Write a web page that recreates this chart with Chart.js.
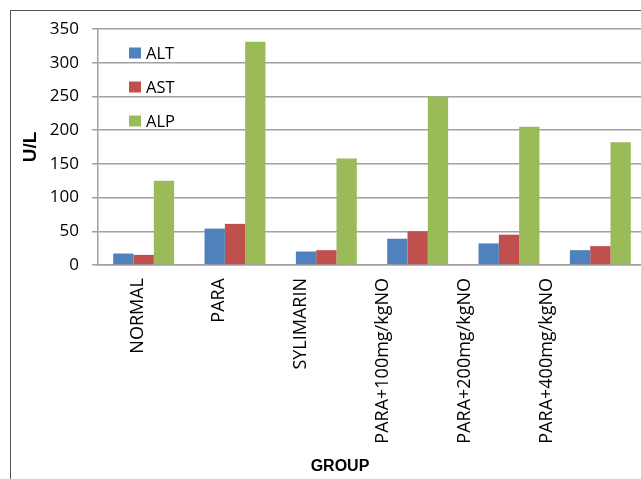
<!DOCTYPE html>
<html>
<head>
<meta charset="utf-8">
<script src="https://cdn.jsdelivr.net/npm/chart.js@4.4.0/dist/chart.umd.min.js"></script>
<style>
  html, body { margin: 0; padding: 0; background: #fff; overflow: hidden; width: 641px; height: 479px; }
  #wrap { position: absolute; left: 0; top: 0; width: 660px; height: 479px; }
  #frame { position: absolute; left: 10px; top: 10px; width: 700px; height: 500px;
           border-left: 1.5px solid #555; border-top: 1.5px solid #555; pointer-events: none; }
</style>
</head>
<body>
<div id="wrap"><canvas id="c" width="660" height="479"></canvas></div>
<div id="frame"></div>
<script>
// Serum enzyme levels (U/L) per treatment group
const groups = ['NORMAL', 'PARA', 'SYLIMARIN', 'PARA+100mg/kgNO', 'PARA+200mg/kgNO', 'PARA+400mg/kgNO'];
const altValues = [17, 54, 20, 39, 32, 22];
const astValues = [15, 61, 22, 50, 45, 28];
const alpValues = [125, 331, 158, 250, 205, 182];
const yTicks = [0, 50, 100, 150, 200, 250, 300, 350];

const SANS = '"Open Sans", sans-serif';
const BOLD = '"Liberation Sans", Arial, sans-serif';

// Legend drawn inside the plot area, stacked vertically at the upper left,
// plus the horizontal axis title under the group labels
const insideLegend = {
  id: 'insideLegend',
  afterDraw(chart) {
    const ctx = chart.ctx;
    const area = chart.chartArea;
    ctx.save();
    ctx.font = '16.5px ' + SANS;
    ctx.textBaseline = 'middle';
    ctx.textAlign = 'left';
    chart.data.datasets.forEach((ds, i) => {
      const cy = area.top + 24 + i * 34;
      ctx.fillStyle = ds.backgroundColor;
      ctx.fillRect(area.left + 31, cy - 5.5, 12, 11);
      ctx.fillStyle = '#000';
      ctx.fillText(ds.label, area.left + 48, cy + 1);
    });
    ctx.font = 'bold 16px ' + BOLD;
    ctx.textAlign = 'center';
    ctx.fillText('GROUP', area.left + 242, 467);
    ctx.restore();
  }
};

new Chart(document.getElementById('c'), {
  type: 'bar',
  data: {
    labels: groups,
    datasets: [
      { label: 'ALT', data: altValues, backgroundColor: '#4F81BD', xAxisID: 'x' },
      { label: 'AST', data: astValues, backgroundColor: '#C0504D', xAxisID: 'x' },
      { label: 'ALP', data: alpValues, backgroundColor: '#9BBB59', xAxisID: 'x' }
    ]
  },
  options: {
    responsive: false,
    animation: false,
    devicePixelRatio: 1,
    layout: { padding: { left: 12, top: 29, right: 14, bottom: 0 } },
    plugins: {
      legend: { display: false },
      tooltip: { enabled: false }
    },
    datasets: { bar: { categoryPercentage: 0.667, barPercentage: 1.0 } },
    scales: {
      // category axis carrying the bars
      x: {
        weight: 0,
        grid: { display: false, drawTicks: false },
        border: { display: true, color: '#a0a0a0', width: 1.5 },
        ticks: { display: false },
        afterFit(scale) { scale.height = 0; }
      },
      // group name axis, labels set at a tighter pitch than the bar groups
      xNames: {
        type: 'linear',
        position: 'bottom',
        weight: 1,
        offset: false,
        bounds: 'data',
        min: -0.483, max: 6.216,
        afterBuildTicks(scale) { scale.ticks = groups.map((g, i) => ({ value: i })); },
        grid: { display: false, drawTicks: false, offset: false },
        border: { display: false },
        ticks: {
          color: '#000', font: { family: SANS, size: 18 },
          minRotation: 90, maxRotation: 90, autoSkip: false, padding: 13,
          callback: (v) => groups[v]
        },
        afterFit(scale) { scale.height = 214; }
      },
      y: {
        min: 0, max: 350,
        afterBuildTicks(scale) { scale.ticks = yTicks.map(v => ({ value: v })); },
        grid: { color: '#a0a0a0', lineWidth: 1.5, tickLength: 6 },
        border: { display: true, color: '#a0a0a0', width: 1.5 },
        ticks: { color: '#000', font: { family: SANS, size: 17 }, padding: 13 },
        title: {
          display: true, text: 'U/L', color: '#000',
          font: { family: BOLD, size: 19, weight: 'bold' },
          padding: { top: 7, bottom: 0 }
        },
        afterFit(scale) { scale.width = 86; }
      }
    }
  },
  plugins: [insideLegend]
});
</script>
</body>
</html>
